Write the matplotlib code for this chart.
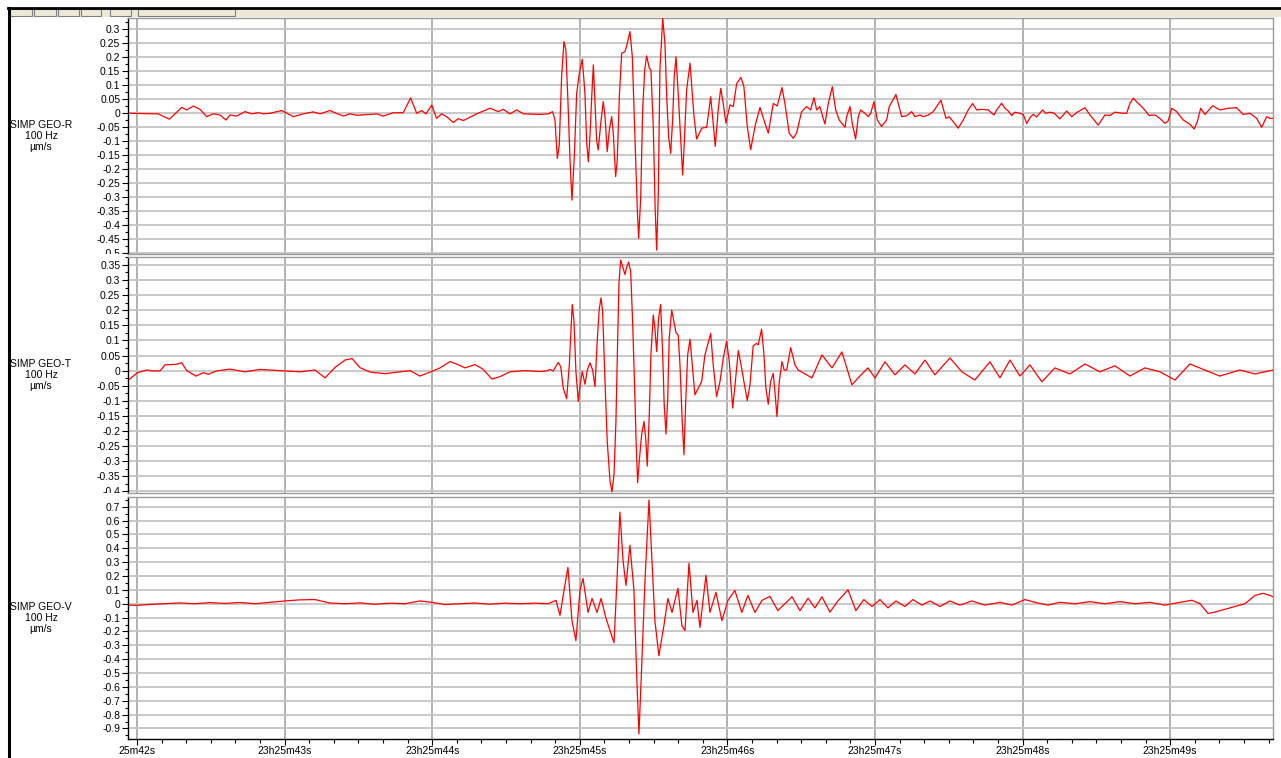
import matplotlib.pyplot as plt
from matplotlib.patches import Rectangle
from matplotlib.lines import Line2D
from matplotlib.transforms import Bbox, TransformedBbox
from matplotlib.ticker import MultipleLocator, FixedLocator, FuncFormatter

plt.rcParams['font.family'] = ['Liberation Sans', 'DejaVu Sans']
plt.rcParams['axes.unicode_minus'] = False

# time axis: seconds after 23h25m00s
geo_r_t = [41.953, 42.144, 42.219, 42.303, 42.337, 42.382, 42.427, 42.472, 42.517, 42.562,
           42.603, 42.630, 42.675, 42.732, 42.777, 42.822, 42.856, 42.901, 42.980, 43.059,
           43.127, 43.194, 43.240, 43.308, 43.341, 43.398, 43.443, 43.488, 43.579, 43.624,
           43.669, 43.736, 43.804, 43.854, 43.895, 43.929, 43.958, 43.997, 44.030, 44.064,
           44.098, 44.143, 44.177, 44.211, 44.301, 44.392, 44.448, 44.482, 44.527, 44.573,
           44.618, 44.730, 44.787, 44.816, 44.832, 44.848, 44.861, 44.877, 44.893, 44.906,
           44.922, 44.934, 44.947, 44.963, 44.979, 44.997, 45.017, 45.035, 45.047, 45.058,
           45.069, 45.081, 45.092, 45.103, 45.114, 45.125, 45.142, 45.159, 45.171, 45.186,
           45.200, 45.216, 45.227, 45.243, 45.254, 45.268, 45.284, 45.306, 45.322, 45.340,
           45.356, 45.374, 45.390, 45.399, 45.413, 45.426, 45.440, 45.453, 45.471, 45.482,
           45.498, 45.511, 45.521, 45.532, 45.543, 45.562, 45.577, 45.589, 45.602, 45.616,
           45.629, 45.640, 45.652, 45.667, 45.684, 45.697, 45.708, 45.724, 45.747, 45.774,
           45.792, 45.826, 45.860, 45.887, 45.900, 45.918, 45.938, 45.955, 45.972, 45.990,
           46.018, 46.040, 46.063, 46.092, 46.112, 46.135, 46.158, 46.187, 46.221, 46.248,
           46.277, 46.311, 46.338, 46.370, 46.390, 46.419, 46.446, 46.469, 46.503, 46.537,
           46.564, 46.587, 46.605, 46.627, 46.646, 46.661, 46.684, 46.711, 46.734, 46.758,
           46.797, 46.808, 46.831, 46.846, 46.869, 46.887, 46.903, 46.932, 46.955, 46.971,
           46.993, 47.016, 47.045, 47.079, 47.097, 47.142, 47.181, 47.215, 47.249, 47.271,
           47.305, 47.327, 47.361, 47.395, 47.447, 47.481, 47.503, 47.530, 47.564, 47.598,
           47.632, 47.662, 47.689, 47.723, 47.768, 47.806, 47.820, 47.858, 47.881, 47.903,
           47.926, 47.948, 47.982, 48.005, 48.028, 48.055, 48.073, 48.095, 48.136, 48.158,
           48.186, 48.215, 48.253, 48.299, 48.333, 48.371, 48.423, 48.457, 48.513, 48.558,
           48.592, 48.626, 48.682, 48.705, 48.728, 48.750, 48.777, 48.818, 48.858, 48.897,
           48.931, 48.965, 48.987, 49.010, 49.044, 49.089, 49.134, 49.163, 49.184, 49.207,
           49.236, 49.288, 49.337, 49.394, 49.450, 49.495, 49.541, 49.586, 49.620, 49.654,
           49.676, 49.699]
geo_r_v = [0.000, -0.002, -0.021, 0.021, 0.012, 0.026, 0.014, -0.012, -0.002, -0.006,
           -0.024, -0.006, -0.010, 0.006, -0.002, 0.002, -0.002, 0.000, 0.010, -0.012,
           -0.002, 0.005, -0.002, 0.010, 0.002, -0.010, -0.002, -0.007, -0.004, -0.002,
           -0.010, 0.002, 0.002, 0.055, 0.000, 0.010, -0.002, 0.029, -0.018, -0.002,
           -0.012, -0.033, -0.019, -0.026, -0.002, 0.018, 0.006, 0.014, -0.002, 0.012,
           -0.002, -0.004, -0.002, 0.006, -0.024, -0.161, -0.113, 0.131, 0.256, 0.226,
           0.012, -0.167, -0.310, -0.155, 0.071, 0.143, 0.193, 0.071, -0.107, -0.173,
           -0.083, 0.060, 0.173, 0.036, -0.095, -0.131, -0.036, 0.042, -0.012, -0.137,
           -0.060, -0.012, -0.071, -0.226, -0.167, 0.060, 0.214, 0.220, 0.250, 0.292,
           0.202, -0.083, -0.345, -0.446, -0.298, 0.012, 0.155, 0.205, 0.161, 0.155,
           -0.048, -0.345, -0.488, -0.286, 0.155, 0.339, 0.250, 0.060, -0.083, -0.143,
           -0.024, 0.131, 0.202, 0.071, -0.095, -0.220, -0.107, 0.083, 0.179, -0.012,
           -0.092, -0.053, -0.050, 0.059, -0.012, -0.118, 0.012, 0.089, 0.035, -0.035,
           0.030, 0.024, 0.106, 0.128, 0.095, -0.047, -0.130, -0.047, 0.021, -0.024,
           -0.071, 0.035, 0.026, 0.092, 0.035, -0.071, -0.089, -0.071, 0.006, 0.024,
           0.012, 0.056, 0.012, 0.024, -0.012, -0.038, 0.035, 0.095, 0.012, -0.024,
           -0.050, -0.012, 0.024, -0.036, -0.092, -0.012, 0.012, 0.000, -0.012, 0.000,
           0.041, -0.024, -0.047, -0.024, 0.024, 0.067, -0.012, -0.009, 0.006, -0.012,
           -0.006, -0.012, -0.006, 0.006, 0.047, -0.018, -0.012, -0.030, -0.053, -0.024,
           0.012, 0.035, 0.012, 0.014, 0.012, -0.006, 0.008, 0.036, 0.018, 0.008,
           -0.008, 0.004, 0.000, -0.004, -0.036, -0.012, -0.004, -0.013, 0.012, 0.000,
           0.004, 0.000, -0.020, 0.008, -0.012, 0.004, 0.020, -0.006, -0.042, -0.006,
           -0.008, 0.004, 0.000, 0.000, 0.036, 0.054, 0.039, 0.018, -0.008, -0.006,
           -0.018, -0.036, -0.027, 0.018, 0.006, -0.024, -0.039, -0.056, -0.030, 0.018,
           -0.004, 0.027, 0.012, 0.018, 0.020, -0.004, 0.000, -0.018, -0.050, -0.012,
           -0.018, -0.018]

geo_t_t = [41.948, 42.002, 42.066, 42.110, 42.156, 42.190, 42.269, 42.303, 42.337, 42.400,
           42.449, 42.483, 42.540, 42.630, 42.732, 42.833, 42.969, 43.104, 43.206, 43.274,
           43.341, 43.409, 43.457, 43.511, 43.579, 43.680, 43.782, 43.850, 43.917, 43.985,
           44.053, 44.121, 44.175, 44.222, 44.290, 44.344, 44.405, 44.459, 44.527, 44.629,
           44.730, 44.776, 44.798, 44.820, 44.854, 44.871, 44.888, 44.911, 44.929, 44.938,
           44.949, 44.961, 44.974, 44.990, 45.001, 45.017, 45.035, 45.051, 45.069, 45.087,
           45.103, 45.119, 45.132, 45.144, 45.155, 45.171, 45.186, 45.205, 45.218, 45.232,
           45.245, 45.257, 45.266, 45.277, 45.295, 45.306, 45.318, 45.331, 45.345, 45.358,
           45.372, 45.381, 45.392, 45.403, 45.419, 45.435, 45.448, 45.457, 45.471, 45.482,
           45.498, 45.509, 45.521, 45.534, 45.548, 45.562, 45.572, 45.584, 45.596, 45.606,
           45.623, 45.638, 45.652, 45.667, 45.679, 45.694, 45.706, 45.717, 45.731, 45.747,
           45.762, 45.780, 45.803, 45.826, 45.848, 45.887, 45.904, 45.927, 45.950, 45.972,
           45.995, 46.013, 46.036, 46.052, 46.074, 46.097, 46.112, 46.135, 46.153, 46.175,
           46.198, 46.209, 46.232, 46.248, 46.261, 46.277, 46.293, 46.311, 46.322, 46.336,
           46.352, 46.370, 46.385, 46.402, 46.429, 46.458, 46.480, 46.573, 46.641, 46.709,
           46.776, 46.844, 46.898, 46.953, 47.000, 47.068, 47.136, 47.203, 47.271, 47.339,
           47.406, 47.508, 47.589, 47.677, 47.779, 47.847, 47.915, 47.982, 48.050, 48.131,
           48.219, 48.321, 48.423, 48.524, 48.626, 48.728, 48.829, 48.931, 49.033, 49.134,
           49.236, 49.336, 49.473, 49.574, 49.697]
geo_t_v = [-0.029, -0.007, 0.002, -0.001, -0.001, 0.019, 0.021, 0.026, 0.000, -0.018,
           -0.007, -0.012, -0.001, 0.005, -0.004, 0.004, 0.000, -0.004, 0.002, -0.024,
           0.010, 0.035, 0.040, 0.010, -0.005, -0.010, -0.004, 0.000, -0.018, -0.005,
           0.009, 0.030, 0.020, 0.009, 0.020, 0.005, -0.028, -0.020, -0.004, 0.000,
           -0.003, -0.001, 0.004, -0.001, 0.027, 0.013, -0.058, -0.093, 0.019, 0.106,
           0.219, 0.162, -0.003, -0.102, -0.053, -0.003, -0.045, 0.002, 0.026, 0.002,
           -0.053, 0.106, 0.204, 0.241, 0.195, -0.036, -0.234, -0.366, -0.401, -0.344,
           -0.168, 0.107, 0.294, 0.366, 0.337, 0.318, 0.343, 0.359, 0.327, 0.162,
           -0.058, -0.223, -0.371, -0.300, -0.212, -0.168, -0.234, -0.316, -0.146, 0.052,
           0.184, 0.140, 0.063, 0.173, 0.219, 0.052, -0.113, -0.210, -0.091, 0.107,
           0.200, 0.162, 0.126, 0.117, 0.019, -0.168, -0.278, -0.113, 0.052, 0.104,
           0.019, -0.080, -0.058, -0.036, 0.052, 0.123, 0.019, -0.086, -0.036, 0.041,
           0.098, 0.030, -0.124, -0.047, 0.066, 0.008, -0.036, -0.099, -0.047, 0.082,
           0.090, 0.085, 0.137, 0.052, -0.058, -0.111, -0.036, -0.009, -0.069, -0.152,
           -0.036, 0.030, 0.002, 0.002, 0.076, 0.019, 0.002, -0.024, 0.052, 0.009,
           0.062, -0.047, -0.018, 0.009, -0.024, 0.029, -0.014, 0.019, -0.011, 0.035,
           -0.014, 0.042, -0.004, -0.031, 0.029, -0.024, 0.035, -0.018, 0.019, -0.037,
           0.009, -0.011, 0.022, -0.004, 0.016, -0.018, 0.009, -0.004, -0.031, 0.022,
           0.002, -0.018, 0.002, -0.011, 0.002]

geo_v_t = [41.950, 42.000, 42.088, 42.190, 42.291, 42.393, 42.495, 42.596, 42.698, 42.799,
           42.901, 43.003, 43.104, 43.206, 43.308, 43.409, 43.511, 43.612, 43.714, 43.816,
           43.917, 43.999, 44.087, 44.188, 44.290, 44.392, 44.493, 44.595, 44.697, 44.785,
           44.839, 44.866, 44.893, 44.920, 44.947, 44.974, 45.001, 45.022, 45.056, 45.083,
           45.117, 45.144, 45.178, 45.205, 45.232, 45.252, 45.272, 45.293, 45.313, 45.340,
           45.367, 45.387, 45.401, 45.421, 45.442, 45.469, 45.489, 45.509, 45.536, 45.570,
           45.597, 45.625, 45.665, 45.692, 45.713, 45.740, 45.767, 45.794, 45.814, 45.855,
           45.882, 45.923, 45.963, 46.004, 46.051, 46.098, 46.139, 46.187, 46.234, 46.288,
           46.342, 46.438, 46.492, 46.547, 46.593, 46.641, 46.695, 46.749, 46.817, 46.871,
           46.925, 46.980, 47.034, 47.088, 47.142, 47.203, 47.257, 47.318, 47.373, 47.440,
           47.508, 47.576, 47.657, 47.745, 47.847, 47.928, 48.016, 48.084, 48.172, 48.253,
           48.355, 48.457, 48.558, 48.660, 48.761, 48.863, 48.965, 49.066, 49.148, 49.203,
           49.257, 49.304, 49.372, 49.440, 49.507, 49.575, 49.630, 49.677, 49.697]
geo_v_v = [-0.010, -0.012, -0.005, 0.000, 0.006, 0.000, 0.008, 0.002, 0.009, 0.000,
           0.010, 0.020, 0.028, 0.030, 0.005, 0.000, 0.006, -0.004, 0.004, 0.000,
           0.020, 0.010, -0.006, 0.000, 0.005, -0.003, 0.004, 0.000, 0.004, 0.000,
           0.024, -0.085, 0.096, 0.263, -0.122, -0.267, 0.096, 0.183, -0.063, 0.038,
           -0.063, 0.038, -0.107, -0.194, -0.281, 0.169, 0.661, 0.314, 0.132, 0.422,
           0.096, -0.556, -0.940, -0.411, 0.169, 0.749, 0.314, -0.122, -0.375, -0.158,
           0.038, -0.063, 0.111, -0.158, -0.194, 0.292, -0.063, 0.024, -0.172, 0.205,
           -0.063, 0.082, -0.122, 0.024, 0.096, -0.063, 0.060, -0.063, 0.024, 0.053,
           -0.049, 0.050, -0.050, 0.040, -0.030, 0.050, -0.060, 0.020, 0.100, -0.050,
           0.030, -0.020, 0.030, -0.030, 0.020, -0.020, 0.030, -0.010, 0.020, -0.020,
           0.020, -0.010, 0.020, -0.010, 0.010, -0.010, 0.030, 0.010, -0.010, 0.010,
           0.000, 0.015, 0.000, 0.015, 0.000, 0.010, -0.010, 0.010, 0.025, 0.000,
           -0.070, -0.060, -0.040, -0.020, 0.000, 0.060, 0.075, 0.060, 0.050]

channel_names = ["SIMP GEO-R", "SIMP GEO-T", "SIMP GEO-V"]
sample_rate = "100 Hz"
unit = "µm/s"
sec_ticks = [42, 43, 44, 45, 46, 47, 48, 49]
sec_labels = ["25m42s", "23h25m43s", "23h25m44s", "23h25m45s",
              "23h25m46s", "23h25m47s", "23h25m48s", "23h25m49s"]

W, H = 1281, 758
fig = plt.figure(figsize=(W / 100, H / 100), dpi=100)
fig.patch.set_facecolor('white')


def px_axes(x0, y0, x1, y1):
    return fig.add_axes([x0 / W, 1 - y1 / H, (x1 - x0) / W, (y1 - y0) / H])


def fmt(v, pos):
    s = f"{v:.2f}".rstrip('0').rstrip('.')
    return "0" if s in ("-0", "0") else s


# window chrome: toolbar strip and frame
fig.patches.append(Rectangle((8 / W, 1 - 17 / H), (W - 8) / W, 9 / H, transform=fig.transFigure,
                             facecolor='#ece9d8', edgecolor='none', zorder=0))
for bx0, bx1 in [(9, 32), (34, 56), (58, 79), (81, 101), (110, 131), (138, 235)]:
    fig.patches.append(Rectangle((bx0 / W, 1 - 16 / H), (bx1 - bx0) / W, 7 / H,
                                 transform=fig.transFigure, facecolor='#ece9d8',
                                 edgecolor='#7f7f7f', lw=0.8, zorder=1))
fig.lines.append(Line2D([8 / W, 1], [1 - 8 / H, 1 - 8 / H], transform=fig.transFigure,
                        color='black', lw=2))
fig.lines.append(Line2D([9 / W, 9 / W], [0, 1 - 8 / H], transform=fig.transFigure,
                        color='black', lw=2.2))

x_lo = 41.939
x_hi = 49.697
panels = [
    # (trace, px box, ylim, major, minor)
    (geo_r_t, geo_r_v, (128, 18, 1273, 254), (-0.502, 0.340), 0.05, 0.025),
    (geo_t_t, geo_t_v, (128, 257, 1273, 493), (-0.405, 0.376), 0.05, 0.025),
    (geo_v_t, geo_v_v, (128, 497, 1273, 739), (-0.976, 0.770), 0.1, 0.05),
]

for i, (tt, vv, box, ylim, major, minor) in enumerate(panels):
    ax = px_axes(*box)
    ax.plot(tt, vv, color='#ff0000', lw=0.9, zorder=3)
    ax.set_xlim(x_lo, x_hi)
    ax.set_ylim(*ylim)
    ax.yaxis.set_major_locator(MultipleLocator(major))
    ax.yaxis.set_minor_locator(MultipleLocator(minor))
    ax.yaxis.set_major_formatter(FuncFormatter(fmt))
    ax.xaxis.set_major_locator(FixedLocator(sec_ticks))
    ax.xaxis.set_minor_locator(MultipleLocator(1 / 6))
    ax.grid(axis='y', which='major', color='#c4c4c4', lw=1.3, zorder=1)
    ax.grid(axis='x', which='major', color='#ababab', lw=1.3, zorder=1)
    ax.tick_params(axis='y', which='major', direction='out', length=4, width=0.8,
                   labelsize=7.5, pad=1.5, colors='black')
    ax.tick_params(axis='y', which='minor', direction='out', length=2, width=0.8)
    for side in ('top', 'bottom', 'right'):
        ax.spines[side].set_color('#9a9a9a')
        ax.spines[side].set_linewidth(1)
    ax.spines['left'].set_color('black')
    ax.spines['left'].set_linewidth(1)
    if i < 2:
        ax.tick_params(axis='x', which='both', bottom=False, labelbottom=False)
    else:
        ax.spines['bottom'].set_color('black')
        ax.set_xticklabels(sec_labels)
        ax.tick_params(axis='x', which='major', direction='out', length=4, width=0.8,
                       labelsize=7.5, pad=0.8)
        ax.tick_params(axis='x', which='minor', direction='out', length=3, width=0.8)
    # y labels are cut at the panel edges, as in the strip display
    strip = TransformedBbox(Bbox([[0, 1 - box[3] / H], [box[0] / W, 1 - box[1] / H]]),
                            fig.transFigure)
    fig.canvas.draw()
    for lab in ax.get_yticklabels():
        lab.set_clip_box(strip)
        lab.set_clip_on(True)
    mid = (box[1] + box[3]) / 2
    fig.text(41 / W, 1 - mid / H, f"{channel_names[i]}\n{sample_rate}\n{unit}",
             ha='center', va='center', fontsize=7.5, linespacing=1.15)

fig.savefig("out.png", dpi=100)
